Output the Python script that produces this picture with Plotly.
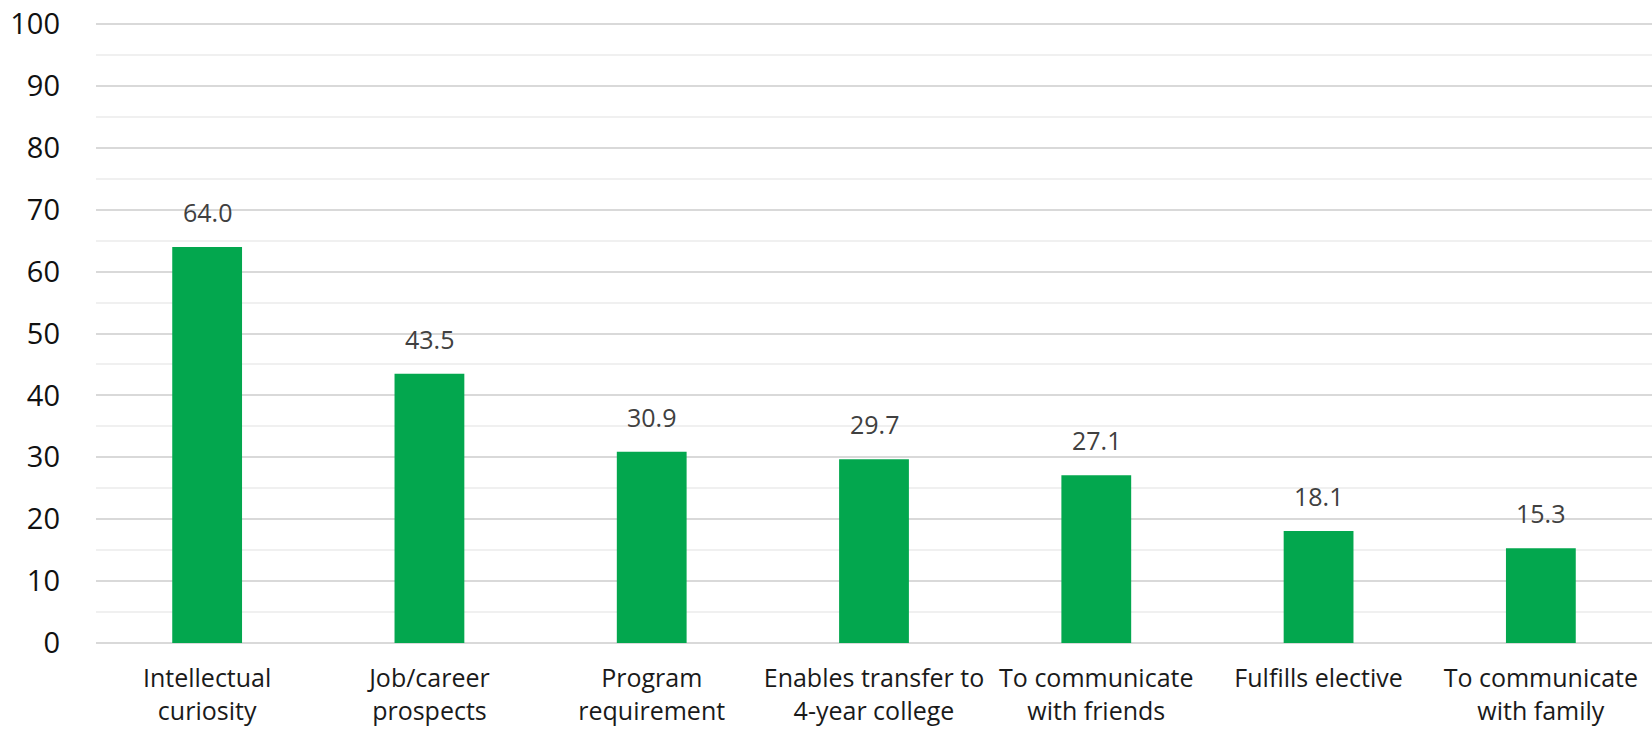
import plotly.graph_objects as go

categories = ["Intellectual<br>curiosity", "Job/career<br>prospects", "Program<br>requirement",
              "Enables transfer to<br>4-year college", "To communicate<br>with friends",
              "Fulfills elective", "To communicate<br>with family"]
values = [64.0, 43.5, 30.9, 29.7, 27.1, 18.1, 15.3]
y_ticks = [0, 10, 20, 30, 40, 50, 60, 70, 80, 90, 100]

FONT = "Open Sans"
fig = go.Figure()
fig.add_trace(go.Bar(x=categories, y=values, marker=dict(color="#03A74E", line=dict(width=0)),
                     hoverinfo="skip"))

for c, v in zip(categories, values):
    fig.add_annotation(x=c, y=v, text=f"{v:.1f}", showarrow=False, yanchor="bottom",
                       yshift=16, font=dict(family=FONT, size=25, color="#404040"))

fig.update_layout(
    width=1652, height=730,
    margin=dict(l=96, r=0, t=21, b=87),
    paper_bgcolor="white", plot_bgcolor="white",
    bargap=0.686, showlegend=False,
    font=dict(family=FONT),
)
fig.update_xaxes(tickfont=dict(family=FONT, size=25, color="#1a1a1a"), showgrid=False,
                 showline=False, ticks="", automargin=False, ticklabelstandoff=18)
fig.update_yaxes(range=[0, 100.5], tickvals=y_ticks, tickfont=dict(family=FONT, size=29, color="#111111"),
                 showgrid=True, gridcolor="#D9D9D9", gridwidth=2, zeroline=True,
                 zerolinecolor="#D9D9D9", zerolinewidth=2, ticks="", ticklabelstandoff=35,
                 automargin=False,
                 minor=dict(dtick=5, showgrid=True, gridcolor="#F0F0F0", gridwidth=2))

fig.write_html("out.html", config={"displayModeBar": False},
               post_script="document.body.style.margin='0';")
